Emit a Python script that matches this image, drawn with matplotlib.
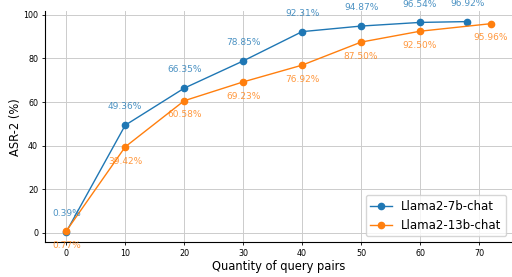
import matplotlib
matplotlib.use("Agg")
import matplotlib.pyplot as plt

# query pair counts and ASR-2 values
x_7b = [0, 10, 20, 30, 40, 50, 60, 68]
asr_7b = [0.39, 49.36, 66.35, 78.85, 92.31, 94.87, 96.54, 96.92]
x_13b = [0, 10, 20, 30, 40, 50, 60, 72]
asr_13b = [0.77, 39.42, 60.58, 69.23, 76.92, 87.50, 92.50, 95.96]

fig, ax = plt.subplots(figsize=(5.12, 2.77), dpi=100)

ax.plot(x_7b, asr_7b, marker='o', markersize=4.5, linewidth=1, color='tab:blue', label='Llama2-7b-chat')
ax.plot(x_13b, asr_13b, marker='o', markersize=4.5, linewidth=1, color='tab:orange', label='Llama2-13b-chat')

# value labels: above for 7b, below for 13b
for x, y in zip(x_7b, asr_7b):
    ax.annotate(f'{y:.2f}%', (x, y), textcoords='offset points', xytext=(0, 10),
                ha='center', va='bottom', fontsize=6.5, color='tab:blue', alpha=0.8)
for x, y in zip(x_13b, asr_13b):
    ax.annotate(f'{y:.2f}%', (x, y), textcoords='offset points', xytext=(0, -7),
                ha='center', va='top', fontsize=6.5, color='tab:orange', alpha=0.8)

ax.set_xlabel('Quantity of query pairs', fontsize=8.3, labelpad=1.5)
ax.set_ylabel('ASR-2 (%)', fontsize=8.3, labelpad=1)
ax.tick_params(labelsize=5.8, width=0.6, length=2.5, pad=2.5)
ax.grid(True, color='#cccccc', linewidth=0.7)
ax.spines['top'].set_visible(False)
ax.spines['right'].set_visible(False)
ax.legend(loc='lower right', fontsize=8.5, handlelength=1.8)

fig.subplots_adjust(left=0.088, right=1.0, top=0.96, bottom=0.125)
fig.savefig('out.png', dpi=100)
